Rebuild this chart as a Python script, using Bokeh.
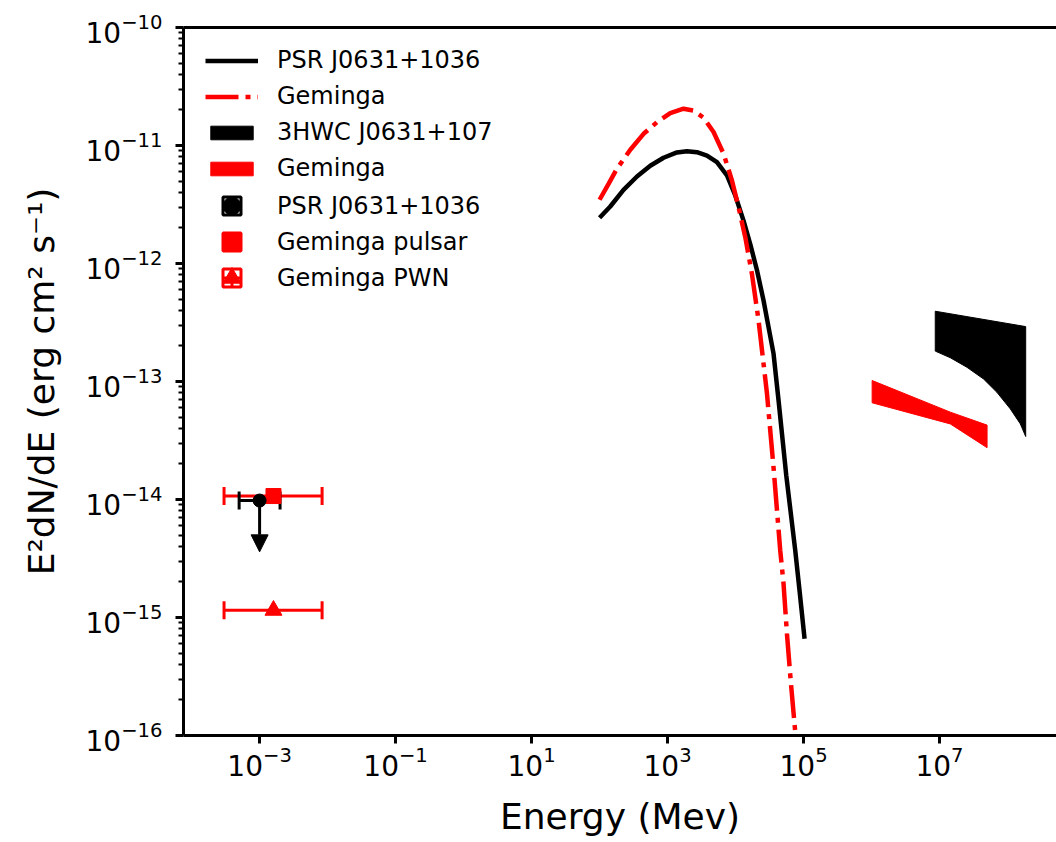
from bokeh.plotting import figure
from bokeh.models import (FixedTicker, LogAxis, Legend, LegendItem, Arrow,
                          NormalHead, ColumnDataSource)
from bokeh.embed import file_html
from bokeh.resources import INLINE

FONT = "DejaVu Sans"

# ---- model curves (E in MeV, E^2 dN/dE in erg cm^-2 s^-1) ----
psr_model_E = [100, 143.6, 225, 355, 557, 873, 1374, 1928, 2705, 3795, 5324,
               7480, 9900, 1.31e4, 1.64e4, 2.07e4, 2.58e4, 3.06e4, 3.62e4,
               4.29e4, 5.57e4, 7.55e4, 8.79e4, 1.035e5]
psr_model_F = [2.44e-12, 3.04e-12, 4.21e-12, 5.46e-12, 6.73e-12, 7.87e-12,
               8.73e-12, 8.95e-12, 8.77e-12, 8.22e-12, 7.22e-12, 5.57e-12,
               3.77e-12, 2.31e-12, 1.47e-12, 8.73e-13, 4.86e-13, 2.88e-13,
               1.72e-13, 6.9e-14, 1.6e-14, 3.7e-15, 1.63e-15, 6.6e-16]

gem_model_E = [100, 135.6, 180, 283, 444, 698, 1096, 1718, 2410, 3383, 4745,
               6668, 8850, 1.107e4, 1.39e4, 1.74e4, 2.18e4, 2.9e4, 3.65e4,
               4.54e4, 5.08e4, 5.7e4, 6.53e4, 7.55e4, 8.07e4]
gem_model_F = [3.47e-12, 4.73e-12, 6.35e-12, 9.2e-12, 1.256e-11, 1.576e-11,
               1.88e-11, 2.05e-11, 1.98e-11, 1.72e-11, 1.30e-11, 8.51e-12,
               5.05e-12, 3.0e-12, 1.67e-12, 8.18e-13, 3.29e-13, 7.87e-14,
               1.76e-14, 3.7e-15, 1.93e-15, 7.28e-16, 2.74e-16, 1.07e-16,
               6.2e-17]

# ---- TeV butterflies ----
hawc_up_E = [8.65e6, 1.85e8]
hawc_up_F = [3.94e-13, 2.92e-13]
hawc_lo_E = [8.65e6, 1.44e7, 2.53e7, 4.44e7, 6.98e7, 1.096e8, 1.54e8, 1.85e8]
hawc_lo_F = [1.81e-13, 1.59e-13, 1.32e-13, 1.05e-13, 8.1e-14, 5.87e-14,
             4.38e-14, 3.42e-14]

gemb_up_E = [1.02e6, 1.44e7, 5.0e7]
gemb_up_F = [1.02e-13, 5.5e-14, 4.27e-14]
gemb_lo_E = [1.02e6, 1.44e7, 5.0e7]
gemb_lo_F = [6.6e-14, 4.37e-14, 2.75e-14]

# ---- X-ray points ----
psr_pt_E = [1.0e-3]
psr_pt_F = [9.8e-15]
psr_pt_Elo = [5.0e-4]
psr_pt_Ehi = [2.0e-3]
psr_pt_Flim = [3.6e-15]

gpsr_pt_E = [1.6e-3]
gpsr_pt_F = [1.07e-14]
gpwn_pt_E = [1.6e-3]
gpwn_pt_F = [1.15e-15]
gem_pt_Elo = [3.0e-4]
gem_pt_Ehi = [8.3e-3]

x_ticks = [1e-3, 1e-1, 1e1, 1e3, 1e5, 1e7]
y_ticks = [1e-16, 1e-15, 1e-14, 1e-13, 1e-12, 1e-11, 1e-10]
y_minor = [k * t for t in y_ticks[:-1] for k in range(2, 10)]

legend_labels = ["PSR J0631+1036", "Geminga", "3HWC J0631+107", "Geminga",
                 "PSR J0631+1036", "Geminga pulsar", "Geminga PWN"]

p = figure(width=1056, height=842, x_axis_type="log", y_axis_type="log",
           x_range=(7.6e-5, 5.25e8), y_range=(1e-16, 1e-10),
           output_backend="svg", toolbar_location=None,
           min_border_left=183, min_border_right=0, min_border_top=27,
           min_border_bottom=107)
p.outline_line_color = None
p.grid.visible = False
p.background_fill_color = "white"
p.border_fill_color = "white"

# curves
r_psr = p.line(psr_model_E, psr_model_F, line_color="black", line_width=4.5)
r_gem = p.line(gem_model_E, gem_model_F, line_color="red", line_width=4.5,
               line_dash="33 7 5 7")

# bands
r_hawc = p.patch(hawc_up_E + hawc_lo_E[::-1], hawc_up_F + hawc_lo_F[::-1],
                 fill_color="black", line_color="black", line_width=1)
r_gemb = p.patch(gemb_up_E + gemb_lo_E[::-1], gemb_up_F + gemb_lo_F[::-1],
                 fill_color="red", line_color="red", line_width=1)

# Geminga error bars
gsrc = ColumnDataSource(dict(lo=gem_pt_Elo * 2, hi=gem_pt_Ehi * 2,
                             y=gpsr_pt_F + gpwn_pt_F))
p.segment(x0="lo", y0="y", x1="hi", y1="y", source=gsrc,
          line_color="red", line_width=3)
p.scatter(x="lo", y="y", source=gsrc, marker="dash", angle=1.5708,
          size=18, line_color="red", line_width=3)
p.scatter(x="hi", y="y", source=gsrc, marker="dash", angle=1.5708,
          size=18, line_color="red", line_width=3)

# PSR upper limit
psrc = ColumnDataSource(dict(x=psr_pt_E, y=psr_pt_F, lo=psr_pt_Elo,
                             hi=psr_pt_Ehi, ylim=psr_pt_Flim))
p.segment(x0="lo", y0="y", x1="hi", y1="y", source=psrc,
          line_color="black", line_width=3)
p.scatter(x="lo", y="y", source=psrc, marker="dash", angle=1.5708,
          size=18, line_color="black", line_width=3)
p.scatter(x="hi", y="y", source=psrc, marker="dash", angle=1.5708,
          size=18, line_color="black", line_width=3)
p.add_layout(Arrow(end=NormalHead(size=17, fill_color="black",
                                  line_color="black", line_width=1),
                   x_start="x", y_start="y", x_end="x", y_end="ylim",
                   source=psrc, line_color="black", line_width=3))

p.scatter(gpsr_pt_E, gpsr_pt_F, marker="square", size=15,
          fill_color="red", line_color="red")
p.scatter(gpwn_pt_E, gpwn_pt_F, marker="triangle", size=17,
          fill_color="red", line_color="red")
p.scatter(psr_pt_E, psr_pt_F, marker="circle", size=13,
          fill_color="black", line_color="black")

# legend-only glyphs for the error-bar entries (not visible in the frame)
def dummy(marker, color, fill):
    src = ColumnDataSource(dict(x=[float("nan")], y=[float("nan")]))
    if fill:
        return p.scatter(x="x", y="y", source=src, marker=marker,
                         fill_color=color, line_color=color)
    return p.scatter(x="x", y="y", source=src, marker=marker,
                     fill_color=None, line_color=color, line_width=3)

err_entries = [
    [dummy("square_cross", "black", False), dummy("circle", "black", True)],
    [dummy("square_cross", "red", False), dummy("square", "red", True)],
    [dummy("square_cross", "red", False), dummy("triangle", "red", True)],
]

# axes styling
xax = p.xaxis[0]
yax = p.yaxis[0]
for ax in (xax, yax):
    ax.axis_line_width = 3
    ax.major_tick_line_width = 3
    ax.major_tick_out = 8
    ax.major_tick_in = 0
    ax.major_label_text_font = FONT
    ax.major_label_text_font_size = "28px"
    ax.major_label_text_color = "black"
    ax.axis_label_text_font = FONT
    ax.axis_label_text_font_size = "36px"
    ax.axis_label_text_font_style = "normal"
    ax.axis_label_text_color = "black"

xax.ticker = FixedTicker(ticks=x_ticks, minor_ticks=[])
xax.minor_tick_line_color = None
xax.axis_label = "Energy (Mev)"
xax.major_label_standoff = 2
xax.axis_label_standoff = 17

yax.ticker = FixedTicker(ticks=y_ticks, minor_ticks=y_minor)
yax.minor_tick_out = 5
yax.minor_tick_in = 0
yax.minor_tick_line_width = 2
yax.axis_label = "E²dN/dE (erg cm² s⁻¹)"
yax.major_label_standoff = 13
yax.axis_label_standoff = 21

top = LogAxis(ticker=FixedTicker(ticks=[], minor_ticks=[]), axis_line_width=3,
              major_tick_line_color=None, minor_tick_line_color=None,
              major_label_text_font_size="0px")
p.add_layout(top, "above")

common = dict(margin=0, padding=0, glyph_width=53, label_standoff=19,
              label_height=30, label_text_font=FONT,
              label_text_font_size="24px", label_text_color="black",
              border_line_color=None, background_fill_alpha=0)

# first legend block: lines and bands (rows 30 px + 6 px spacing)
leg1 = Legend(items=[
    LegendItem(label=legend_labels[0], renderers=[r_psr]),
    LegendItem(label=legend_labels[1], renderers=[r_gem]),
    LegendItem(label=legend_labels[2], renderers=[r_hawc]),
    LegendItem(label=legend_labels[3], renderers=[r_gemb]),
], location=(22, 552), glyph_height=17, spacing=6, **common)
p.add_layout(leg1)

# error-bar entries, one small legend each so marker glyphs can be large
for lab, rends, ybot in zip(legend_labels[4:], err_entries, [507, 471, 435]):
    p.add_layout(Legend(items=[LegendItem(label=lab, renderers=rends)],
                        location=(22, ybot), glyph_height=45, spacing=0,
                        **common))

open("out.html", "w").write(file_html(p, INLINE))
